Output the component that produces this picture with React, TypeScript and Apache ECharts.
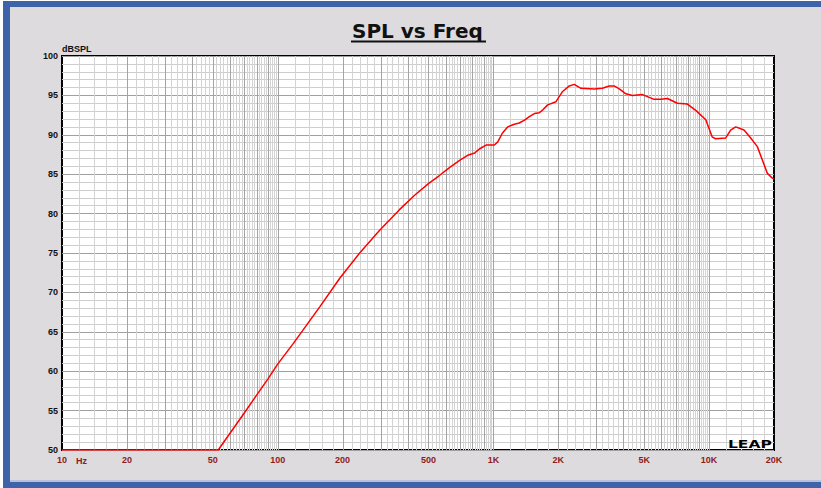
import React, { useEffect, useRef } from "react";
import * as echarts from "echarts";

const freqHz = [
  10, 53, 60, 70, 80, 90, 100, 118, 157, 194, 240, 297, 367, 430, 500, 560, 630, 700,
  760, 820, 861, 925, 1011, 1048, 1100, 1164, 1240, 1318, 1400, 1468, 1549, 1633, 1700,
  1785, 1951, 2094, 2249, 2372, 2546, 2935, 3200, 3443, 3631, 3850, 4113, 4415, 4913,
  5563, 5975, 6412, 7133, 7937, 8675, 9656, 10353, 10738, 11946, 12590, 13290, 14520,
  15600, 16740, 17660, 18640, 19640, 20000,
];
const splDb = [
  50, 50, 52.1, 54.7, 57.0, 59.0, 60.9, 63.5, 68.2, 71.8, 75.0, 77.9, 80.5, 82.3, 83.8,
  84.8, 85.9, 86.8, 87.4, 87.7, 88.2, 88.7, 88.7, 89.1, 90.2, 91.0, 91.3, 91.5, 91.9,
  92.3, 92.7, 92.8, 93.2, 93.8, 94.2, 95.5, 96.2, 96.4, 95.9, 95.8, 95.9, 96.2, 96.2,
  95.8, 95.2, 95.0, 95.1, 94.5, 94.5, 94.6, 94.0, 93.9, 93.1, 91.9, 89.7, 89.5, 89.6,
  90.6, 91.0, 90.6, 89.6, 88.5, 86.8, 85.1, 84.5, 84.4,
];

// Axis labels
const xLabelValues = [10, 20, 50, 100, 200, 500, 1000, 2000, 5000, 10000, 20000];
const xLabelTexts = ["10", "20", "50", "100", "200", "500", "1K", "2K", "5K", "10K", "20K"];
const yMin = 50;
const yMax = 100;
const yStep = 5;
const xMin = 10;
const xMax = 20000;

// LEAP-style log grid: lines every 0.2 of a decade unit, darker at integer multiples
const decades = [10, 100, 1000, 10000];
const majorGrid: number[] = [];
const minorGrid: number[] = [];
decades.forEach((d) => {
  for (let i = 5; i <= 50; i++) {
    const f = (i * d) / 5;
    if (f <= xMin || f > xMax) continue;
    if (i % 5 === 0) majorGrid.push(f);
    else minorGrid.push(f);
  }
});

const gridSeries = (freqs: number[], color: string, z: number) => ({
  type: "custom",
  silent: true,
  z,
  clip: true,
  data: freqs.map((f) => [f, yMin]),
  renderItem: (_params: any, api: any) => {
    const f = api.value(0);
    const top = api.coord([f, yMax]);
    const bot = api.coord([f, yMin]);
    const x = Math.round(top[0]) + 0.5;
    return {
      type: "line",
      shape: { x1: x, y1: top[1], x2: x, y2: bot[1] },
      style: { stroke: color, lineWidth: 1 },
    };
  },
});

export default function App() {
  const ref = useRef<HTMLDivElement>(null);

  useEffect(() => {
    document.body.style.margin = "0";
    if (!ref.current) return;
    const chart = echarts.init(ref.current, null, { renderer: "svg" });
    const labelMap: Record<string, string> = {};
    xLabelValues.forEach((v, i) => (labelMap[String(v)] = xLabelTexts[i]));

    chart.setOption({
      animation: false,
      grid: {
        left: 62,
        right: 47,
        top: 56,
        bottom: 38,
        show: true,
        backgroundColor: "#ffffff",
        borderColor: "#000000",
        borderWidth: 2,
        containLabel: false,
        outerBoundsMode: "none",
      },
      xAxis: {
        type: "log",
        logBase: 10,
        min: xMin,
        max: xMax,
        axisLine: { show: false },
        axisTick: { show: false },
        splitLine: { show: false },
        minorSplitLine: { show: false },
        axisLabel: {
          customValues: xLabelValues,
          margin: 5,
          color: "#8e1b1b",
          fontFamily: "Liberation Sans",
          fontWeight: "bold",
          fontSize: 9,
          formatter: (v: number) => {
            let best = xLabelValues[0];
            xLabelValues.forEach((c) => {
              if (Math.abs(Math.log10(c) - Math.log10(v)) < Math.abs(Math.log10(best) - Math.log10(v))) best = c;
            });
            return labelMap[String(best)];
          },
        },
      },
      yAxis: {
        type: "value",
        min: yMin,
        max: yMax,
        interval: yStep,
        axisLine: { show: false },
        axisTick: { show: false },
        minorTick: { show: false, splitNumber: 5 },
        splitLine: { show: true, lineStyle: { color: "#a0a0a0", width: 1 } },
        minorSplitLine: { show: true, lineStyle: { color: "#cdcdcd", width: 1 } },
        axisLabel: {
          margin: 4,
          color: "#111111",
          fontFamily: "Liberation Sans",
          fontWeight: "bold",
          fontSize: 9,
        },
      },
      graphic: [
        {
          type: "text",
          left: 418 - 66,
          top: 21,
          z: 100,
          style: {
            text: "SPL vs Freq",
            font: 'bold 20px "DejaVu Sans"',
            fill: "#111111",
          },
        },
        {
          type: "line",
          z: 100,
          shape: { x1: 351, y1: 41.5, x2: 486, y2: 41.5 },
          style: { stroke: "#111111", lineWidth: 2 },
        },
        {
          type: "text",
          x: 62,
          y: 44,
          z: 100,
          style: {
            text: "dBSPL",
            font: 'bold 9px "Liberation Sans"',
            fill: "#111111",
          },
        },
        {
          type: "text",
          x: 76,
          y: 456,
          z: 100,
          style: {
            text: "Hz",
            font: 'bold 9px "Liberation Sans"',
            fill: "#8e1b1b",
          },
        },
        {
          type: "text",
          x: 728,
          y: 439.5,
          scaleX: 1.55,
          z: 100,
          style: {
            text: "LEAP",
            font: 'bold 10px "DejaVu Sans"',
            fill: "#000000",
          },
        },
      ],
      series: [
        gridSeries(minorGrid, "#d3d3d3", 1),
        gridSeries(majorGrid, "#a4a4a4", 2),
        {
          type: "line",
          z: 5,
          data: freqHz.map((f, i) => [f, splDb[i]]),
          showSymbol: false,
          smooth: false,
          lineStyle: { color: "#ff0000", width: 1.5 },
          itemStyle: { color: "#ff0000" },
          clip: true,
        },
      ],
    });
    return () => chart.dispose();
  }, []);

  return (
    <div style={{ position: "fixed", left: 0, top: 0, width: 821, height: 488, background: "#ffffff" }}>
      <div style={{ position: "absolute", left: 3, top: 1, width: 818, height: 487, background: "#3f63a8" }} />
      <div style={{ position: "absolute", left: 10, top: 7, width: 811, height: 473, background: "#dddbde" }} />
      <div style={{ position: "absolute", left: 10, top: 480, width: 811, height: 2, background: "#b7c2da" }} />
      <div ref={ref} style={{ position: "absolute", left: 0, top: 0, width: 821, height: 488 }} />
    </div>
  );
}
